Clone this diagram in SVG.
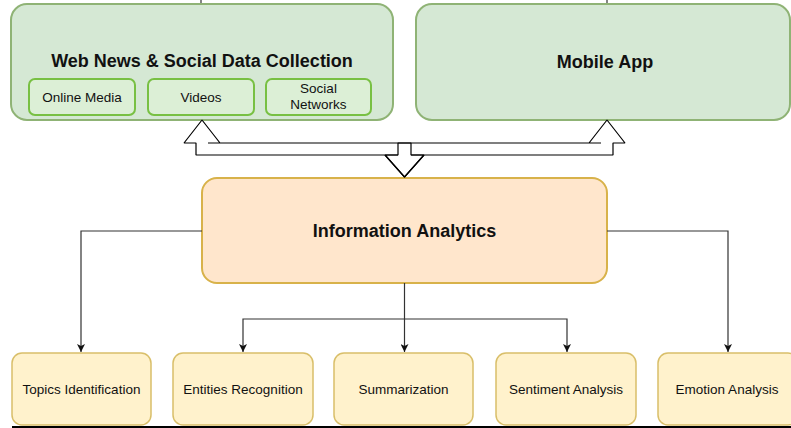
<svg xmlns="http://www.w3.org/2000/svg" width="791" height="428" viewBox="0 0 791 428">
  <defs>
    <style>
      text { font-family: "Liberation Sans", Arial, Helvetica, sans-serif; fill: #111; text-anchor: middle; }
      .big { font-size: 18px; font-weight: bold; }
      .small { font-size: 13.5px; }
      .green { fill: #d5e8d4; stroke: #8fb375; stroke-width: 2; }
      .sub { fill: #dcefd6; stroke: #78c043; stroke-width: 2; }
      .orange { fill: #ffe6cc; stroke: #d8b24a; stroke-width: 2; }
      .yellow { fill: #fff2cc; stroke: #d9bf6a; stroke-width: 1.5; }
      .conn { fill: none; stroke: #333; stroke-width: 1.2; }
      .flexfill { fill: #fff; stroke: none; }
      .flexline { fill: none; stroke: #000; stroke-width: 1.2; stroke-linejoin: bevel; }
    </style>
    <marker id="arr" viewBox="0 0 10 10" refX="10" refY="5" markerWidth="8" markerHeight="8" markerUnits="userSpaceOnUse" orient="auto">
      <path d="M0,0 L10,5 L0,10 L2.5,5 Z" fill="#111"/>
    </marker>
    <polygon id="flex1" points="424,155 411,155 411,143 208,143 220,143 202,120 184,143 196,143 196,155 398,155 385,155 404.5,177"/>
    <polygon id="flex2" points="385,155 398,155 398,143 601,143 589,143 607,120 625,143 613,143 613,155 411,155 424,155 404.5,177"/>
  </defs>

  <g id="web-news">
    <rect class="green" x="11" y="4" width="382" height="116" rx="16"/>
    <text class="big" x="202" y="67">Web News &amp; Social Data Collection</text>
    <g id="online-media">
      <rect class="sub" x="29" y="79" width="106" height="36" rx="6"/>
      <text class="small" x="82" y="102">Online Media</text>
    </g>
    <g id="videos">
      <rect class="sub" x="148" y="79" width="106" height="36" rx="6"/>
      <text class="small" x="201" y="102">Videos</text>
    </g>
    <g id="social-networks">
      <rect class="sub" x="266" y="79" width="105" height="36" rx="6"/>
      <text class="small" x="318.5" y="93">Social</text>
      <text class="small" x="318.5" y="109">Networks</text>
    </g>
  </g>

  <g id="mobile-app">
    <rect class="green" x="416" y="4" width="374" height="116" rx="16"/>
    <text class="big" x="605" y="68">Mobile App</text>
  </g>

  <g id="information-analytics">
    <rect class="orange" x="202" y="178" width="405" height="105" rx="15"/>
    <text class="big" x="404.5" y="237">Information Analytics</text>
  </g>

  <g id="topics-identification">
    <rect class="yellow" x="12" y="353" width="139" height="72" rx="10"/>
    <text class="small" x="81.5" y="394">Topics Identification</text>
  </g>
  <g id="entities-recognition">
    <rect class="yellow" x="173" y="353" width="140" height="72" rx="10"/>
    <text class="small" x="243" y="394">Entities Recognition</text>
  </g>
  <g id="summarization">
    <rect class="yellow" x="334" y="353" width="139" height="72" rx="10"/>
    <text class="small" x="403.5" y="394">Summarization</text>
  </g>
  <g id="sentiment-analysis">
    <rect class="yellow" x="496" y="353" width="140" height="72" rx="10"/>
    <text class="small" x="566" y="394">Sentiment Analysis</text>
  </g>
  <g id="emotion-analysis">
    <rect class="yellow" x="658" y="353" width="140" height="72" rx="10"/>
    <text class="small" x="727" y="394">Emotion Analysis</text>
  </g>

  <g id="connectors">
    <use href="#flex1" class="flexfill"/>
    <use href="#flex2" class="flexfill"/>
    <use href="#flex1" class="flexline"/>
    <use href="#flex2" class="flexline"/>
    <path class="conn" d="M202,231 H81 V352" marker-end="url(#arr)"/>
    <path class="conn" d="M607,231 H728 V352" marker-end="url(#arr)"/>
    <path class="conn" d="M404.5,283 V352" marker-end="url(#arr)"/>
    <path class="conn" d="M404.5,319 H243 V352" marker-end="url(#arr)"/>
    <path class="conn" d="M404.5,319 H567 V352" marker-end="url(#arr)"/>
    <path class="conn" d="M201,0 V3"/>
    <path class="conn" d="M607,0 V3"/>
  </g>

  <rect x="12" y="426" width="779" height="2" fill="#000"/>
</svg>
